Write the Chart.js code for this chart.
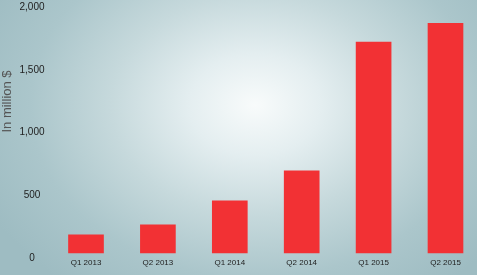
<!DOCTYPE html>
<html>
<head>
<meta charset="utf-8">
<script src="https://cdn.jsdelivr.net/npm/chart.js@4"></script>
<style>
  html, body { margin: 0; padding: 0; overflow: hidden; }
  body {
    width: 477px; height: 275px;
    background: radial-gradient(ellipse 300px 230px at 255px 105px,
      #f8fbfb 0%, #e4eef0 22%, #c6d9dc 48%, #abc6cb 75%, #9ebcc2 100%);
  }
  #wrap { position: relative; width: 477px; height: 275px; }
</style>
</head>
<body>
<div id="wrap"><canvas id="c" width="477" height="275"></canvas></div>
<script>
const categories = ['Q1 2013', 'Q2 2013', 'Q1 2014', 'Q2 2014', 'Q1 2015', 'Q2 2015'];
const revenue = [145, 225, 415, 655, 1680, 1830];
const yTicks = [0, 500, 1000, 1500, 2000];
const yTitle = 'In million $';

const titlePlugin = {
  id: 'yTitle',
  afterDraw(chart) {
    const ctx = chart.ctx;
    ctx.save();
    ctx.translate(7.5, 101.5);
    ctx.rotate(-Math.PI / 2);
    ctx.font = '13px "Liberation Sans", Arial, sans-serif';
    ctx.fillStyle = '#555';
    ctx.textAlign = 'center';
    ctx.textBaseline = 'middle';
    ctx.fillText(yTitle, 0, 0);
    ctx.restore();
  }
};

new Chart(document.getElementById('c'), {
  type: 'bar',
  data: {
    labels: categories,
    datasets: [{
      data: revenue,
      backgroundColor: '#f23134',
      borderWidth: 0,
      barThickness: 35,
      clip: false
    }]
  },
  plugins: [titlePlugin],
  options: {
    responsive: false,
    animation: false,
    events: [],
    layout: { padding: { top: 2, right: 31.5, bottom: 0, left: 0 } },
    plugins: { legend: { display: false }, tooltip: { enabled: false } },
    scales: {
      x: {
        offset: false,
        grid: { display: false, drawTicks: false },
        border: { display: false },
        ticks: {
          padding: 5,
          maxRotation: 0,
          autoSkip: false,
          color: '#222',
          font: { family: '"Liberation Sans", Arial, sans-serif', size: 8 }
        },
        afterFit(s) { s.height = 22; s.paddingLeft = 0; s.paddingRight = 0; }
      },
      y: {
        min: 0, max: 2000,
        grid: { display: false, drawTicks: false },
        border: { display: false },
        afterBuildTicks(s) { s.ticks = yTicks.map(v => ({ value: v })); },
        ticks: {
          crossAlign: 'center',
          padding: 41.5,
          labelOffset: 5,
          color: '#222',
          font: { family: '"Liberation Sans", Arial, sans-serif', size: 10 },
          callback: v => v.toLocaleString('en-US')
        },
        afterFit(s) { s.width = 86; s.paddingTop = 0; s.paddingBottom = 0; }
      }
    }
  }
});
</script>
</body>
</html>
